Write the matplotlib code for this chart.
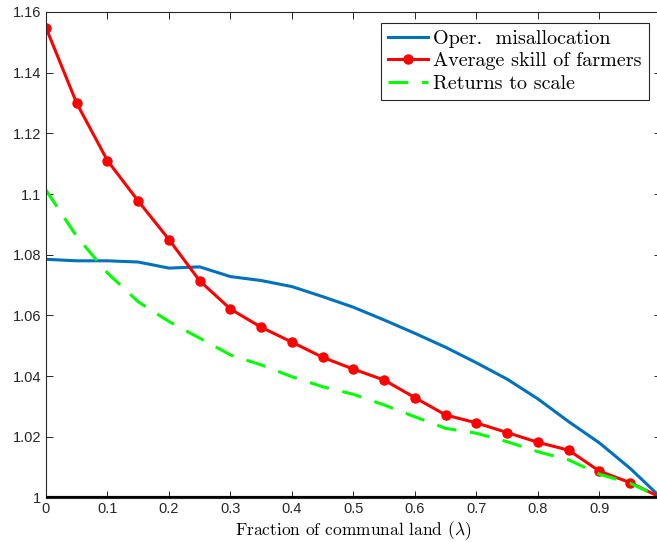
import matplotlib
matplotlib.use('Agg')
import matplotlib.pyplot as plt

plt.rcParams['mathtext.fontset'] = 'cm'

lam = [0.0, 0.05, 0.1, 0.15, 0.2, 0.25, 0.3, 0.35, 0.4, 0.45, 0.5,
       0.55, 0.6, 0.65, 0.7, 0.75, 0.8, 0.85, 0.9, 0.95, 1.0]

misalloc = [1.0785, 1.0780, 1.0780, 1.0776, 1.0756, 1.0760, 1.0728, 1.0715,
            1.0695, 1.0662, 1.0627, 1.0585, 1.0541, 1.0495, 1.0444, 1.0390,
            1.0325, 1.0250, 1.0180, 1.0096, 1.0000]

skill = [1.1548, 1.1299, 1.1110, 1.0977, 1.0850, 1.0714, 1.0621, 1.0561,
         1.0512, 1.0462, 1.0423, 1.0387, 1.0329, 1.0272, 1.0246, 1.0214,
         1.0182, 1.0156, 1.0087, 1.0049, 1.0000]

rts = [1.1013, 1.0860, 1.0740, 1.0645, 1.0580, 1.0525, 1.0470, 1.0437,
       1.0398, 1.0365, 1.0340, 1.0305, 1.0266, 1.0228, 1.0212, 1.0184,
       1.0151, 1.0124, 1.0077, 1.0047, 1.0000]

xticks = [0, 0.1, 0.2, 0.3, 0.4, 0.5, 0.6, 0.7, 0.8, 0.9, 1.0]
# the "1" label falls outside the cropped picture
xticklabels = ['0', '0.1', '0.2', '0.3', '0.4', '0.5', '0.6', '0.7', '0.8', '0.9', '']
yticks = [1.0, 1.02, 1.04, 1.06, 1.08, 1.1, 1.12, 1.14, 1.16]
yticklabels = ['1', '1.02', '1.04', '1.06', '1.08', '1.1', '1.12', '1.14', '1.16']

fig = plt.figure(figsize=(6.57, 5.42), dpi=100)
# axes runs a little past the right edge, as in the original crop
ax = fig.add_axes([0.070, 0.082, 0.936, 0.896])

ax.plot(lam, misalloc, color='#0072BD', lw=2.2, label='Oper.  misallocation')
ax.plot(lam, skill, color='#FF0000', lw=2.2, marker='o', markersize=6.5,
        label='Average skill of farmers')
ax.plot(lam, rts, color='#00FF00', lw=2.2, ls=(0, (6.5, 4.5)), label='Returns to scale')
ax.axhline(1.0, color='black', lw=3, zorder=5)

ax.set_xlim(0, 1)
ax.set_ylim(1.0, 1.16)
ax.set_xticks(xticks)
ax.set_xticklabels(xticklabels)
ax.set_yticks(yticks)
ax.set_yticklabels(yticklabels)
ax.tick_params(direction='in', top=True, right=True, labelsize=10.5,
               colors='#262626', length=5, width=0.7)
for lbl in ax.get_xticklabels() + ax.get_yticklabels():
    lbl.set_fontfamily('Liberation Sans')
for s in ax.spines.values():
    s.set_color('#262626')
    s.set_linewidth(0.8)

ax.set_xlabel(r'Fraction of communal land ($\lambda$)', fontname='cmr10',
              fontsize=12.5, labelpad=2)

leg = ax.legend(loc='upper right', bbox_to_anchor=(0.99, 0.99),
                prop={'family': 'cmr10', 'size': 14.5}, fancybox=False,
                edgecolor='#262626', framealpha=1, handlelength=2.0,
                handletextpad=0.25, borderpad=0.35, labelspacing=0.22,
                borderaxespad=0.3)
leg.get_frame().set_linewidth(0.8)

fig.savefig('out.png', dpi=100)
